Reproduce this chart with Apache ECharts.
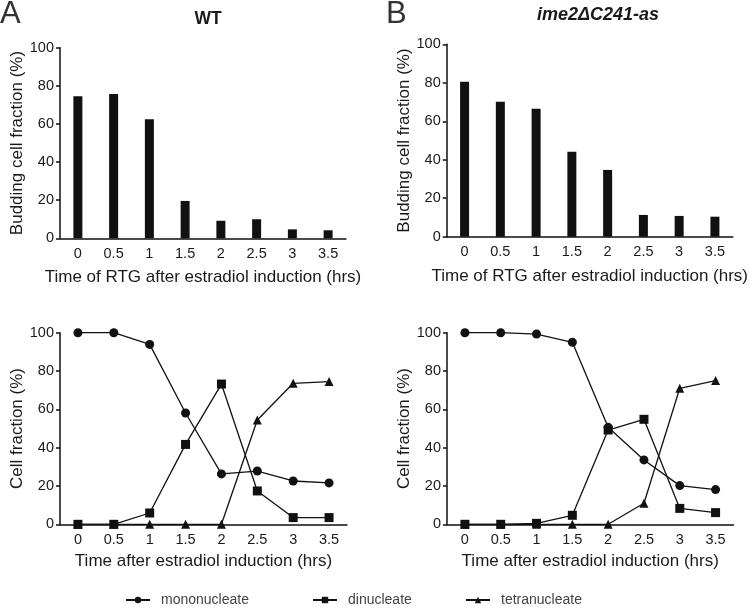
<!DOCTYPE html>
<html><head><meta charset="utf-8">
<script src="https://cdn.jsdelivr.net/npm/echarts@6/dist/echarts.min.js"></script>
<style>html,body{margin:0;padding:0;background:#fff}#c{width:750px;height:608px}</style>
</head><body><div id="c"></div>
<script>
var categories = ['0','0.5','1','1.5','2','2.5','3','3.5'];
var yTicks = [0,20,40,60,80,100];
var wtBudding = [74.5, 75.7, 62.4, 19.6, 9.2, 10.0, 4.7, 4.2];
var mutBudding = [80.6, 70.2, 66.5, 44.2, 34.7, 11.3, 10.8, 10.4];
var wtMono = [100, 100, 93.9, 58.1, 26.3, 27.8, 22.6, 21.6];
var wtDi = [0, 0, 5.9, 41.7, 73.2, 17.4, 3.5, 3.5];
var wtTetra = [0, 0, 0, 0, 0, 54.4, 73.6, 74.5];
var mutMono = [100, 100, 99.3, 95.0, 50.6, 33.6, 20.2, 18.1];
var mutDi = [0, 0, 0.5, 4.7, 49.2, 54.8, 8.3, 6.1];
var mutTetra = [0, 0, 0, 0, 0, 11.0, 71.0, 75.0];
var seriesNames = ['mononucleate','dinucleate','tetranucleate'];
var symbols = ['circle','rect','triangle'];

var FONT = '"Liberation Sans", Arial, sans-serif';
var TXT = '#1a1a1a';
var grids = [
  {left:60, top:47.7, width:286, height:190.6},
  {left:446.7, top:44.3, width:286.5, height:192.4},
  {left:60, top:332.7, width:287, height:191.6},
  {left:447, top:332.7, width:286.5, height:191.6}
];
var xNames = ['Time of RTG after estradiol induction (hrs)','Time of RTG after estradiol induction (hrs)',
  'Time after estradiol induction (hrs)','Time after estradiol induction (hrs)'];
var yNames = ['Budding cell fraction (%)','Budding cell fraction (%)','Cell fraction (%)','Cell fraction (%)'];
var xGaps = [31, 31, 29, 29];
var axisLine = {lineStyle:{color:'#111', width:1.5}};
var xAxes = grids.map(function(g,i){
  return {type:'category', gridIndex:i, data:categories, boundaryGap:true,
    axisLine:axisLine, axisTick:{alignWithLabel:true, length:5, lineStyle:{color:'#111',width:1.5}},
    axisLabel:{color:TXT, fontSize:14.5, fontFamily:FONT, margin:8},
    name:xNames[i], nameLocation:'middle', nameGap:xGaps[i],
    nameTextStyle:{color:TXT, fontSize:17, fontFamily:FONT}};
});
var yAxes = grids.map(function(g,i){
  return {type:'value', gridIndex:i, min:yTicks[0], max:yTicks[yTicks.length-1], interval:yTicks[1]-yTicks[0],
    axisLine:{show:true, lineStyle:{color:'#111', width:1.5}},
    axisTick:{show:true, length:4, lineStyle:{color:'#111',width:1.5}},
    splitLine:{show:false},
    axisLabel:{color:TXT, fontSize:14.5, fontFamily:FONT, margin:6},
    name:yNames[i], nameLocation:'middle', nameGap:33,
    nameTextStyle:{color:TXT, fontSize:17, fontFamily:FONT}};
});
var series = [
  {type:'bar', xAxisIndex:0, yAxisIndex:0, data:wtBudding, barWidth:9, itemStyle:{color:'#111'}},
  {type:'bar', xAxisIndex:1, yAxisIndex:1, data:mutBudding, barWidth:9, itemStyle:{color:'#111'}}
];
var lineSets = [[wtMono, wtDi, wtTetra],[mutMono, mutDi, mutTetra]];
lineSets.forEach(function(set, k){
  set.forEach(function(d, j){
    series.push({type:'line', name:seriesNames[j], xAxisIndex:2+k, yAxisIndex:2+k, data:d,
      symbol:symbols[j], symbolSize:9, showAllSymbol:true,
      lineStyle:{color:'#111', width:1.3}, itemStyle:{color:'#111'}, z: 3+j});
  });
});
var legendLefts = [125, 312, 465];
var legends = seriesNames.map(function(n,j){
  return {data:[n], left:legendLefts[j], top:593, padding:0, itemWidth:24, itemHeight:8, itemGap:10,
    textStyle:{color:'#444', fontSize:14, fontFamily:FONT, padding:[0,0,0,6]}};
});
var option = {
  animation:false,
  backgroundColor:'#fff',
  title:[
    {text:'A', left:0, top:-1, padding:0, textStyle:{fontSize:31, fontWeight:'normal', color:'#333', fontFamily:FONT}},
    {text:'B', left:386, top:-1, padding:0, textStyle:{fontSize:31, fontWeight:'normal', color:'#333', fontFamily:FONT}},
    {text:'WT', left:203, top:5, textAlign:'center', textStyle:{fontSize:17.5, fontWeight:'bold', color:TXT, fontFamily:FONT}},
    {text:'ime2\u0394C241-as', left:593, top:1, textAlign:'center', textStyle:{fontSize:18, fontWeight:'bold', fontStyle:'italic', color:TXT, fontFamily:FONT}}
  ],
  legend:legends,
  grid:grids,
  xAxis:xAxes,
  yAxis:yAxes,
  series:series
};
var chart = echarts.init(document.getElementById('c'), null, {renderer:'canvas'});
chart.setOption(option);
</script></body></html>
